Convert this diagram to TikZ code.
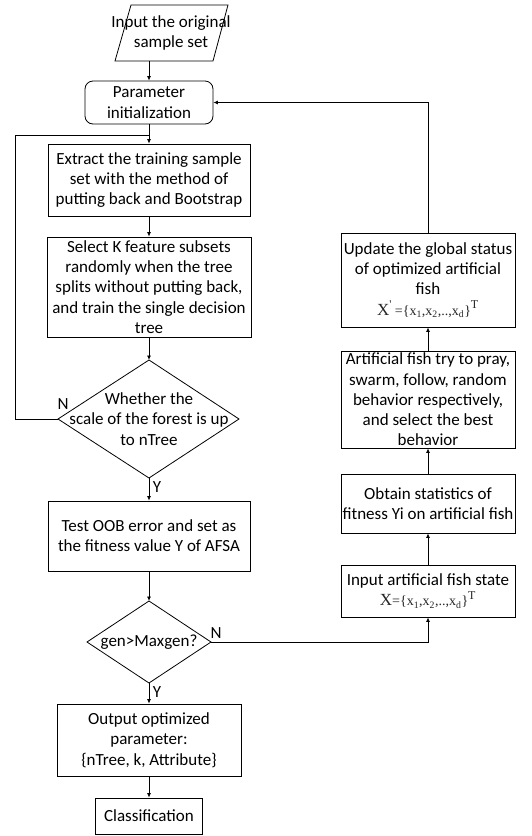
\documentclass[tikz,border=0pt]{standalone}
\usepackage{fontspec}
\setmainfont{Carlito}
\newfontfamily\tnr{Liberation Serif}
\usetikzlibrary{arrows.meta}
\newcommand{\fs}{\fontsize{17}{20.3}\selectfont}
% state vector formulas
\newcommand{\statevec}[1]{{\tnr\color{black!85}{\fontsize{17}{18}\selectfont X}#1{\fontsize{14}{15}\selectfont=\{x\textsubscript{1},x\textsubscript{2},..,x\textsubscript{d}\}}\textsuperscript{\fontsize{12}{12}\selectfont T}}}
\begin{document}
\begin{tikzpicture}[x=1pt,y=-1pt,
  box/.style={draw, line width=0.8pt, align=center, inner sep=0pt, font=\fs},
  rbox/.style={box, rounded corners=8pt},
  txt/.style={align=center, inner sep=0pt, font=\fs},
  ln/.style={line width=0.8pt},
  arr/.style={ln, -{Latex[length=4.5pt,width=4pt]}},
  lab/.style={inner sep=0pt, font=\fs}]
\useasboundingbox (0,0) rectangle (531,836);

% input parallelogram
\coordinate (p1) at (131,5);
\coordinate (p2) at (228,5);
\coordinate (p3) at (213,61);
\coordinate (p4) at (115,61);
\coordinate (inpb) at (149,61);
\draw[ln] (p1) -- (p2) -- (p3) -- (p4) -- cycle;
\node[txt] (inp) at (171,33) {Input the original\\sample set};

% left column
\node[rbox, minimum width=128pt, minimum height=43pt] (param) at (149,102.5) {Parameter\\initialization};
\node[box, minimum width=202pt, minimum height=72pt] (extract) at (149,180) {Extract the training sample\\set with the method of\\putting back and Bootstrap};
\node[box, minimum width=204pt, minimum height=100pt] (select) at (149,287) {Select K feature subsets\\randomly when the tree\\splits without putting back,\\and train the single decision\\tree};

% first decision
\coordinate (d1t) at (149,360);
\coordinate (d1r) at (239,419);
\coordinate (d1b) at (149,478);
\coordinate (d1l) at (58,419);
\draw[ln] (d1t) -- (d1r) -- (d1b) -- (d1l) -- cycle;
\node[txt] (d1) at (149,419) {Whether the\\scale of the forest is up\\to nTree};

\node[box, minimum width=202pt, minimum height=70pt] (test) at (149,536) {Test OOB error and set as\\the fitness value Y of AFSA};

% second decision
\coordinate (d2t) at (149,601);
\coordinate (d2r) at (211,642);
\coordinate (d2b) at (149,683);
\coordinate (d2l) at (87,642);
\draw[ln] (d2t) -- (d2r) -- (d2b) -- (d2l) -- cycle;
\node[txt] (d2) at (149,642) {gen>Maxgen?};

\node[box, minimum width=184pt, minimum height=72pt] (output) at (149,740) {Output optimized\\parameter:\\\{nTree, k, Attribute\}};
\node[box, minimum width=107pt, minimum height=36pt] (class) at (149,816) {Classification};

% right column
\node[box, minimum width=174pt, minimum height=94pt] (update) at (428,280) {Update the global status\\of optimized artificial\\fish\\\statevec{\textsuperscript{'}\,}};
\node[box, minimum width=174pt, minimum height=97pt] (art) at (428,399.5) {Artificial fish try to pray,\\swarm, follow, random\\behavior respectively,\\and select the best\\behavior};
\node[box, minimum width=174pt, minimum height=59pt] (obtain) at (428,503.5) {Obtain statistics of\\fitness Yi on artificial fish};
\node[box, minimum width=174pt, minimum height=52pt] (fish) at (428,591) {Input artificial fish state\\\statevec{}};

% connectors
\draw[arr] (inpb) -- (param.north);
\draw[arr] (param.south) -- (extract.north);
\draw[arr] (extract.south) -- (select.north);
\draw[arr] (select.south) -- (d1t);
\draw[arr] (d1b) -- (test.north);
\draw[arr] (test.south) -- (d2t);
\draw[arr] (d2b) -- (output.north);
\draw[arr] (output.south) -- (class.north);

\coordinate (lp) at (15,135);
\coordinate (lj) at (149,135);
\draw[ln] (d1l) -| (lp) -- (lj);

\draw[arr] (d2r) -| (fish.south);
\draw[arr] (fish.north) -- (obtain.south);
\draw[arr] (obtain.north) -- (art.south);
\draw[arr] (art.north) -- (update.south);
\draw[arr] (update.north) |- (param.east);

% branch labels
\node[lab] (n1) at (63,404) {N};
\node[lab] (y1) at (157,487) {Y};
\node[lab] (y2) at (157,692) {Y};
\node[lab] (n2) at (216,633) {N};
\end{tikzpicture}
\end{document}
